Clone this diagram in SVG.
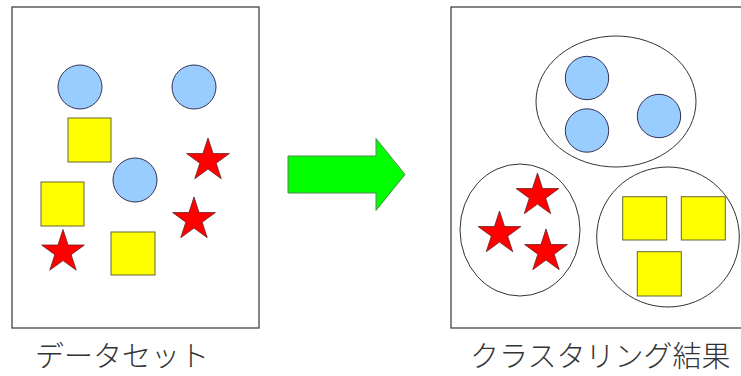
<svg xmlns="http://www.w3.org/2000/svg" xmlns:xlink="http://www.w3.org/1999/xlink" width="741" height="376" viewBox="0 0 741 376">
<style>
.box{fill:#fff;stroke:#444;stroke-width:1.3}
.grp{fill:none;stroke:#333;stroke-width:1}
.c{fill:#99ccff;stroke:#335;stroke-width:1}
.sq{fill:#ffff00;stroke:#666633;stroke-width:1}
.st{fill:#ff0000;stroke:#662222;stroke-width:0.8}
.arrow{fill:#00ff00;stroke:#558855;stroke-width:1}
.lbl{font-family:"Noto Sans CJK JP","Noto Sans CJK SC",sans-serif;font-size:29px;font-weight:300;fill:#333}
</style>
<defs>
<polygon id="star" points="0,-22.5 5.05,-6.96 21.4,-6.95 8.18,2.66 13.23,18.2 0,8.6 -13.23,18.2 -8.18,2.66 -21.4,-6.95 -5.05,-6.96"/>
</defs>
<rect width="741" height="376" fill="#fff"/>
<g id="dataset">
<rect class="box" x="12" y="7" width="247" height="321"/>
<circle class="c" cx="80" cy="87" r="22"/>
<circle class="c" cx="194" cy="87" r="22"/>
<circle class="c" cx="135" cy="180" r="22"/>
<rect class="sq" x="68" y="118" width="43" height="44"/>
<rect class="sq" x="41" y="182" width="43" height="44"/>
<rect class="sq" x="111" y="232" width="44" height="43"/>
<use class="st" xlink:href="#star" href="#star" x="208" y="160.5"/>
<use class="st" xlink:href="#star" href="#star" x="194" y="219.5"/>
<use class="st" xlink:href="#star" href="#star" x="63" y="252"/>
</g>
<g id="connectors">
<polygon class="arrow" points="288,156 376,156 376,138.5 405,174.5 376,210.5 376,193 288,193"/>
</g>
<g id="result">
<rect class="box" x="451" y="7" width="300" height="321"/>
<g id="cluster-circles">
<ellipse class="grp" cx="616" cy="101.5" rx="80" ry="65.5"/>
<circle class="c" cx="587" cy="78" r="21.7"/>
<circle class="c" cx="587" cy="130.5" r="21.7"/>
<circle class="c" cx="659" cy="116" r="21.7"/>
</g>
<g id="cluster-stars">
<ellipse class="grp" cx="520" cy="230" rx="60" ry="66"/>
<use class="st" xlink:href="#star" href="#star" x="537.5" y="195.5"/>
<use class="st" xlink:href="#star" href="#star" x="499.5" y="233.5"/>
<use class="st" xlink:href="#star" href="#star" x="546" y="251.5"/>
</g>
<g id="cluster-squares">
<ellipse class="grp" cx="668" cy="237" rx="71.3" ry="70"/>
<rect class="sq" x="622.7" y="196.7" width="44" height="43.3"/>
<rect class="sq" x="681.3" y="196.7" width="44" height="43.3"/>
<rect class="sq" x="637.3" y="251.7" width="44" height="44.3"/>
</g>
</g>
<g id="labels">
<text class="lbl" x="35" y="367">データセット</text>
<text class="lbl" x="470" y="367">クラスタリング結果</text>
</g>
</svg>
